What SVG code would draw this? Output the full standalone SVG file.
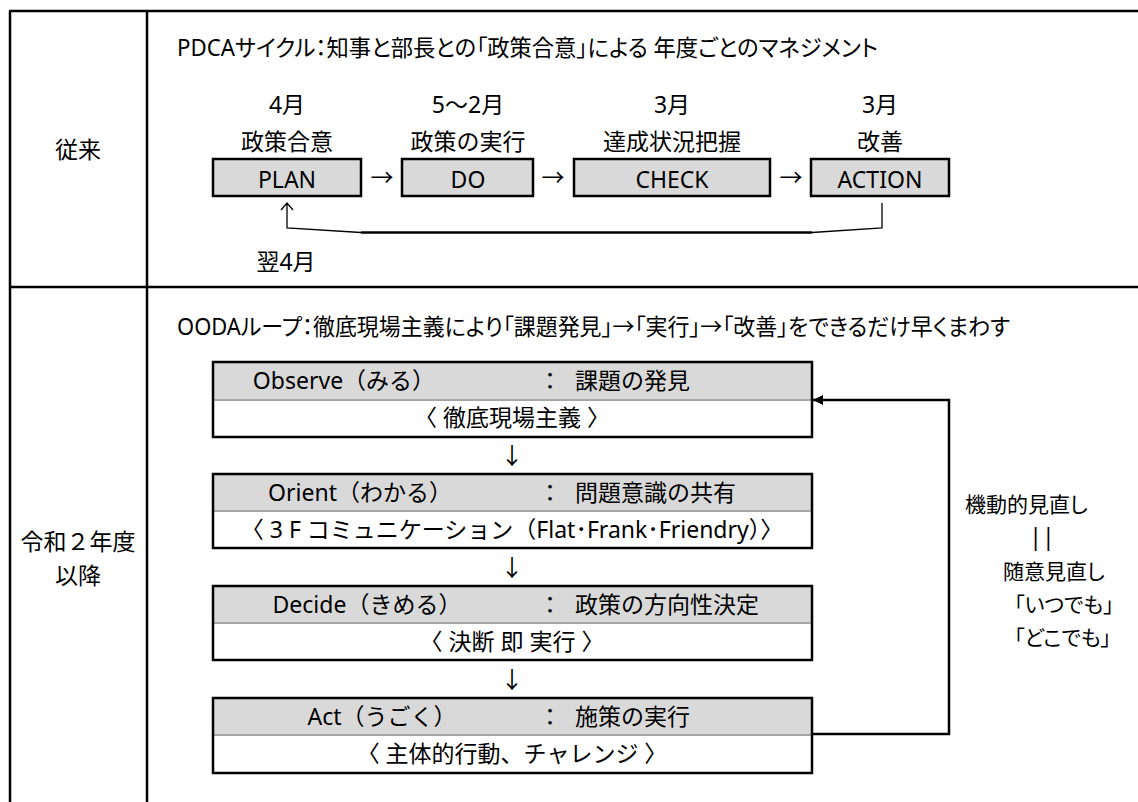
<svg xmlns="http://www.w3.org/2000/svg" width="1138" height="802" viewBox="0 0 1138 802">
<defs>
<style>
.t{font-family:"Noto Sans","Noto Sans CJK JP",sans-serif;font-size:23px;fill:#000}
.p{font-feature-settings:"palt" 1}
.n{font-size:21px}
.c{text-anchor:middle}
.gbox{fill:#d9d9d9;stroke:#000;stroke-width:2.5}
.hdr{fill:#d9d9d9}
.sep{stroke:#a6a6a6;stroke-width:2}
.frame{fill:none;stroke:#000;stroke-width:2.5}
.grid{stroke:#000;stroke-width:2.5;fill:none}
.thin{stroke:#000;stroke-width:1.3;fill:none}
.thick{stroke:#000;stroke-width:2.5;fill:none}
</style>
<marker id="ah" viewBox="0 0 10 10" refX="10" refY="5" markerWidth="10" markerHeight="10" markerUnits="userSpaceOnUse" orient="auto">
<path d="M0,0 L10,5 L0,10 Z" fill="#000"/>
</marker>
</defs>
<rect width="1138" height="802" fill="#fff"/>
<g id="table">
<line class="grid" x1="9" y1="11" x2="1138" y2="11"/>
<line class="grid" x1="9" y1="287" x2="1138" y2="287"/>
<line class="grid" x1="10" y1="11" x2="10" y2="802"/>
<line class="grid" x1="147" y1="11" x2="147" y2="802"/>
<text class="t c" x="78" y="158">従来</text>
<text class="t c" x="78" y="550">令和２年度</text>
<text class="t c" x="78" y="584">以降</text>
</g>
<g id="pdca-title">
<text class="t p" x="177" y="56" textLength="701" lengthAdjust="spacingAndGlyphs">PDCAサイクル：知事と部長との「政策合意」による 年度ごとのマネジメント</text>
</g>
<g id="plan">
<text class="t c" x="287" y="113">4月</text>
<text class="t c" x="287" y="150">政策合意</text>
<rect class="gbox" x="213" y="159" width="148" height="37"/>
<text class="t c" x="287" y="188">PLAN</text>
</g>
<g id="do">
<text class="t c" x="468" y="113">5～2月</text>
<text class="t c" x="468" y="150">政策の実行</text>
<rect class="gbox" x="402" y="159" width="131" height="37"/>
<text class="t c" x="468" y="188">DO</text>
</g>
<g id="check">
<text class="t c" x="672" y="113">3月</text>
<text class="t c" x="672" y="150">達成状況把握</text>
<rect class="gbox" x="574" y="159" width="196" height="37"/>
<text class="t c" x="672" y="188">CHECK</text>
</g>
<g id="action">
<text class="t c" x="880" y="113">3月</text>
<text class="t c" x="880" y="150">改善</text>
<rect class="gbox" x="811" y="159" width="138" height="37"/>
<text class="t c" x="880" y="188">ACTION</text>
</g>
<g id="next-april">
<text class="t c" x="286" y="270">翌4月</text>
</g>
<g id="ooda-title">
<text class="t p" x="177" y="335" textLength="833" lengthAdjust="spacingAndGlyphs">OODAループ：徹底現場主義により「課題発見」→「実行」→「改善」をできるだけ早くまわす</text>
</g>
<g id="observe">
<rect class="hdr" x="213" y="362" width="599" height="38"/>
<line class="sep" x1="213" y1="400" x2="812" y2="400"/>
<rect class="frame" x="213" y="362" width="599" height="75"/>
<text class="t c" x="344" y="389">Observe（みる）</text>
<text class="t c" x="550" y="389">：</text>
<text class="t" x="575" y="389">課題の発見</text>
<text class="t c" x="512" y="426">〈 徹底現場主義 〉</text>
</g>
<g id="orient">
<rect class="hdr" x="213" y="474" width="599" height="37"/>
<line class="sep" x1="213" y1="511" x2="812" y2="511"/>
<rect class="frame" x="213" y="474" width="599" height="74"/>
<text class="t c" x="360" y="501">Orient（わかる）</text>
<text class="t c" x="550" y="501">：</text>
<text class="t" x="575" y="501">問題意識の共有</text>
<text class="t c" x="512" y="538">〈 3 F コミュニケーション（Flat･Frank･Friendry）〉</text>
</g>
<g id="decide">
<rect class="hdr" x="213" y="586" width="599" height="37"/>
<line class="sep" x1="213" y1="623" x2="812" y2="623"/>
<rect class="frame" x="213" y="586" width="599" height="74"/>
<text class="t c" x="367" y="613">Decide（きめる）</text>
<text class="t c" x="550" y="613">：</text>
<text class="t" x="575" y="613">政策の方向性決定</text>
<text class="t c" x="512" y="650">〈 決断 即 実行 〉</text>
</g>
<g id="act">
<rect class="hdr" x="213" y="698" width="599" height="37"/>
<line class="sep" x1="213" y1="735" x2="812" y2="735"/>
<rect class="frame" x="213" y="698" width="599" height="75"/>
<text class="t c" x="382" y="725">Act（うごく）</text>
<text class="t c" x="550" y="725">：</text>
<text class="t" x="575" y="725">施策の実行</text>
<text class="t c" x="512" y="762">〈 主体的行動、チャレンジ 〉</text>
</g>
<g id="review-note">
<text class="t p n" x="965" y="512">機動的見直し</text>
<text class="t c" x="1042" y="545">||</text>
<text class="t p n" x="1003" y="579">随意見直し</text>
<text class="t p n" x="1014" y="612">「いつでも」</text>
<text class="t p n" x="1014" y="645">「どこでも」</text>
</g>
<g id="connectors">
<text class="t c" x="382" y="186">→</text>
<text class="t c" x="553" y="186">→</text>
<text class="t c" x="791" y="186">→</text>
<path class="thin" d="M882,203 V228 L812,232.5"/>
<path class="thick" d="M812,232.5 H361"/>
<path class="thin" d="M361,232.5 L287,228 V203 M281,210 L287,203 L293,210"/>
<text class="t c" x="512" y="464">↓</text>
<text class="t c" x="512" y="576">↓</text>
<text class="t c" x="512" y="688">↓</text>
<path class="thick" d="M812,734 H949 V400 H813" marker-end="url(#ah)"/>
</g>
</svg>
